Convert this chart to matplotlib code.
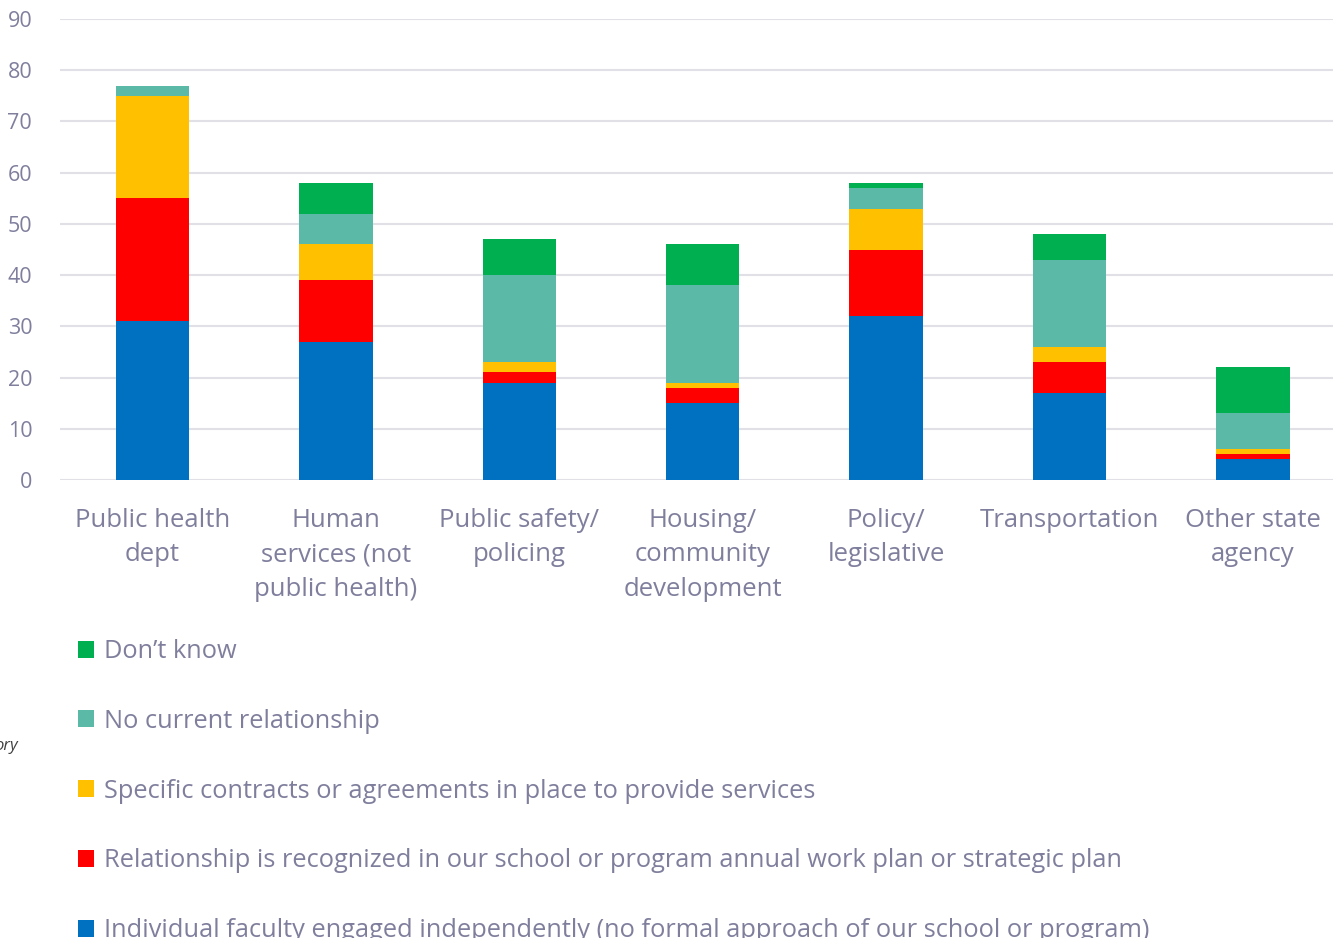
import numpy as np
import matplotlib
matplotlib.use('Agg')
from matplotlib import pyplot as plt

plt.rcParams['font.family'] = ['Open Sans', 'DejaVu Sans']

categories = ['Public health\ndept', 'Human\nservices (not\npublic health)',
              'Public safety/\npolicing', 'Housing/\ncommunity\ndevelopment',
              'Policy/\nlegislative', 'Transportation', 'Other state\nagency']

individual = [31, 27, 19, 15, 32, 17, 4]
work_plan = [24, 12, 2, 3, 13, 6, 1]
contracts = [20, 7, 2, 1, 8, 3, 1]
no_relationship = [2, 6, 17, 19, 4, 17, 7]
dont_know = [0, 6, 7, 8, 1, 5, 9]

series_labels = [
    'Individual faculty engaged independently (no formal approach of our school or program)',
    'Relationship is recognized in our school or program annual work plan or strategic plan',
    'Specific contracts or agreements in place to provide services',
    'No current relationship',
    'Don\u2019t know',
]
series = [individual, work_plan, contracts, no_relationship, dont_know]
colors = ['#0070C0', '#FF0000', '#FFC000', '#5BBAA7', '#00B050']

text_color = '#7F7F9D'

fig = plt.figure(figsize=(13.33, 9.38), dpi=100)
ax = fig.add_axes([0.045, 0.4883, 0.955, 0.4914])

x = np.arange(len(categories))
bottom = np.zeros(len(categories))
handles = []
for vals, lab, col in zip(series, series_labels, colors):
    h = ax.bar(x, vals, width=0.4, bottom=bottom, color=col, label=lab, zorder=3)
    handles.append(h)
    bottom += np.array(vals)

ax.set_xlim(-0.504, 6.437)
ax.set_ylim(0, 90)
ax.set_yticks(range(0, 91, 10))
ax.yaxis.grid(True, color='#E0E0E6', linewidth=1.5, zorder=0)
ax.set_axisbelow(True)
for s in ax.spines.values():
    s.set_visible(False)
ax.tick_params(axis='both', length=0, colors=text_color)
ax.tick_params(axis='y', labelsize=15.5, pad=20)
ax.set_xticks(x)
ax.set_xticklabels(categories, fontsize=18.5, linespacing=1.5)
ax.tick_params(axis='x', pad=20)

# legend stacked below the plot, top entry first
leg = fig.legend(handles[::-1], series_labels[::-1], loc='upper left',
                 bbox_to_anchor=(0.041, 0.343), frameon=False, fontsize=18.3,
                 handlelength=0.65, handleheight=0.65, handletextpad=0.38,
                 labelspacing=1.76, labelcolor=text_color)

fig.text(-0.004, 0.2, 'ory', fontsize=12, style='italic', color='#404040')

fig.savefig('out.png', dpi=100)
